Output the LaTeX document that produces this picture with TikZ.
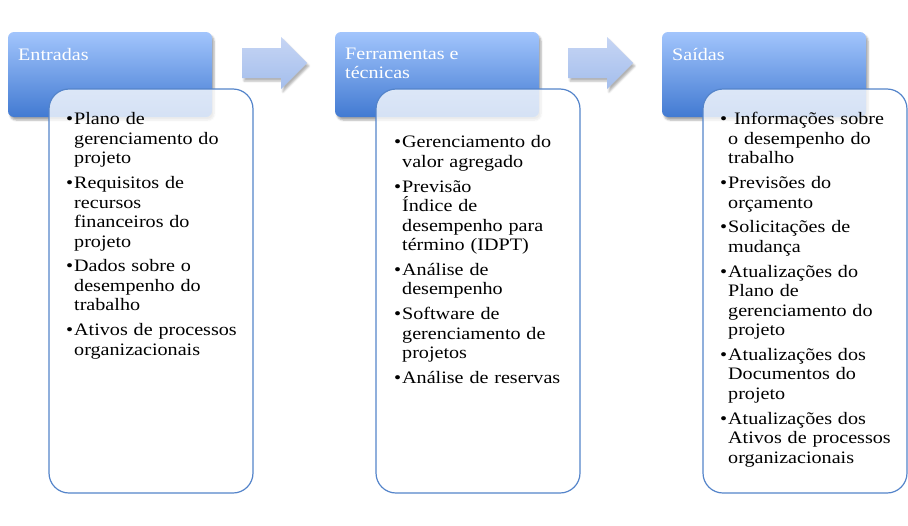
\documentclass[tikz,border=0pt]{standalone}
\usepackage{fontspec}
\setmainfont{Liberation Serif}[FakeStretch=1.15]
\usetikzlibrary{shadows.blur}
\definecolor{hdrtop}{RGB}{162,197,252}
\definecolor{hdrbot}{RGB}{66,122,210}
\definecolor{boxline}{RGB}{84,132,202}
\definecolor{arrtop}{RGB}{198,213,244}
\definecolor{arrbot}{RGB}{164,190,236}
\newcommand{\itm}[1]{\par\raggedright\let\\\newline\noindent\hangindent=8pt\hangafter=1\makebox[8pt][l]{\textbullet}#1\par\vspace{5.3pt}}
\tikzset{
  hdrbox/.style={rounded corners=6pt,top color=hdrtop,bottom color=hdrbot,
    blur shadow={shadow xshift=2pt,shadow yshift=-3pt,shadow opacity=35}},
  listbox/.style={rounded corners=20pt,draw=boxline,line width=1.2pt,fill=white,fill opacity=0.78,draw opacity=1},
  arrowfill/.style={top color=arrtop,bottom color=arrbot,
    blur shadow={shadow xshift=2pt,shadow yshift=-3pt,shadow opacity=30}},
  hdrtext/.style={anchor=north west,inner sep=0pt,text=white,align=left,font=\fontsize{17.5}{19}\selectfont},
  listtext/.style={anchor=north west,inner sep=0pt,text width=185pt,font=\fontsize{17.5}{19.5}\selectfont}
}
\begin{document}
\begin{tikzpicture}[x=1pt,y=-1pt]
\useasboundingbox (0,0) rectangle (908,525);
% headers, list boxes and arrows
\foreach \dx in {0,327,654} {
  \path[hdrbox] (8+\dx,32) rectangle (212+\dx,117);
  \path[listbox] (49+\dx,89) rectangle (253+\dx,493);
}
\foreach \dx in {0,326} \path[arrowfill] (242+\dx,48) -- (281+\dx,48) -- (281+\dx,37) -- (307+\dx,63) -- (281+\dx,89) -- (281+\dx,78) -- (242+\dx,78) -- cycle;
\node[hdrtext] (ent) at (18,48) {Entradas};
\node[hdrtext] (fer) at (345,48) {Ferramentas e\\técnicas};
\node[hdrtext] (sai) at (672,48) {Saídas};
\node[listtext] (lent) at (66,105) {%
\itm{Plano de\\gerenciamento do\\projeto}
\itm{Requisitos de\\recursos\\financeiros do\\projeto}
\itm{Dados sobre o\\desempenho do\\trabalho}
\itm{Ativos de processos\\organizacionais}};
\node[listtext] (lfer) at (394,128) {%
\itm{Gerenciamento do\\valor agregado}
\itm{Previsão\\Índice de\\desempenho para\\término (IDPT)}
\itm{Análise de\\desempenho}
\itm{Software de\\gerenciamento de\\projetos}
\itm{Análise de reservas}};
\node[listtext] (lsai) at (720,105) {%
\itm{\ Informações sobre\\o desempenho do\\trabalho}
\itm{Previsões do\\orçamento}
\itm{Solicitações de\\mudança}
\itm{Atualizações do\\Plano de\\gerenciamento do\\projeto}
\itm{Atualizações dos\\Documentos do\\projeto}
\itm{Atualizações dos\\Ativos de processos\\organizacionais}};
\end{tikzpicture}
\end{document}
